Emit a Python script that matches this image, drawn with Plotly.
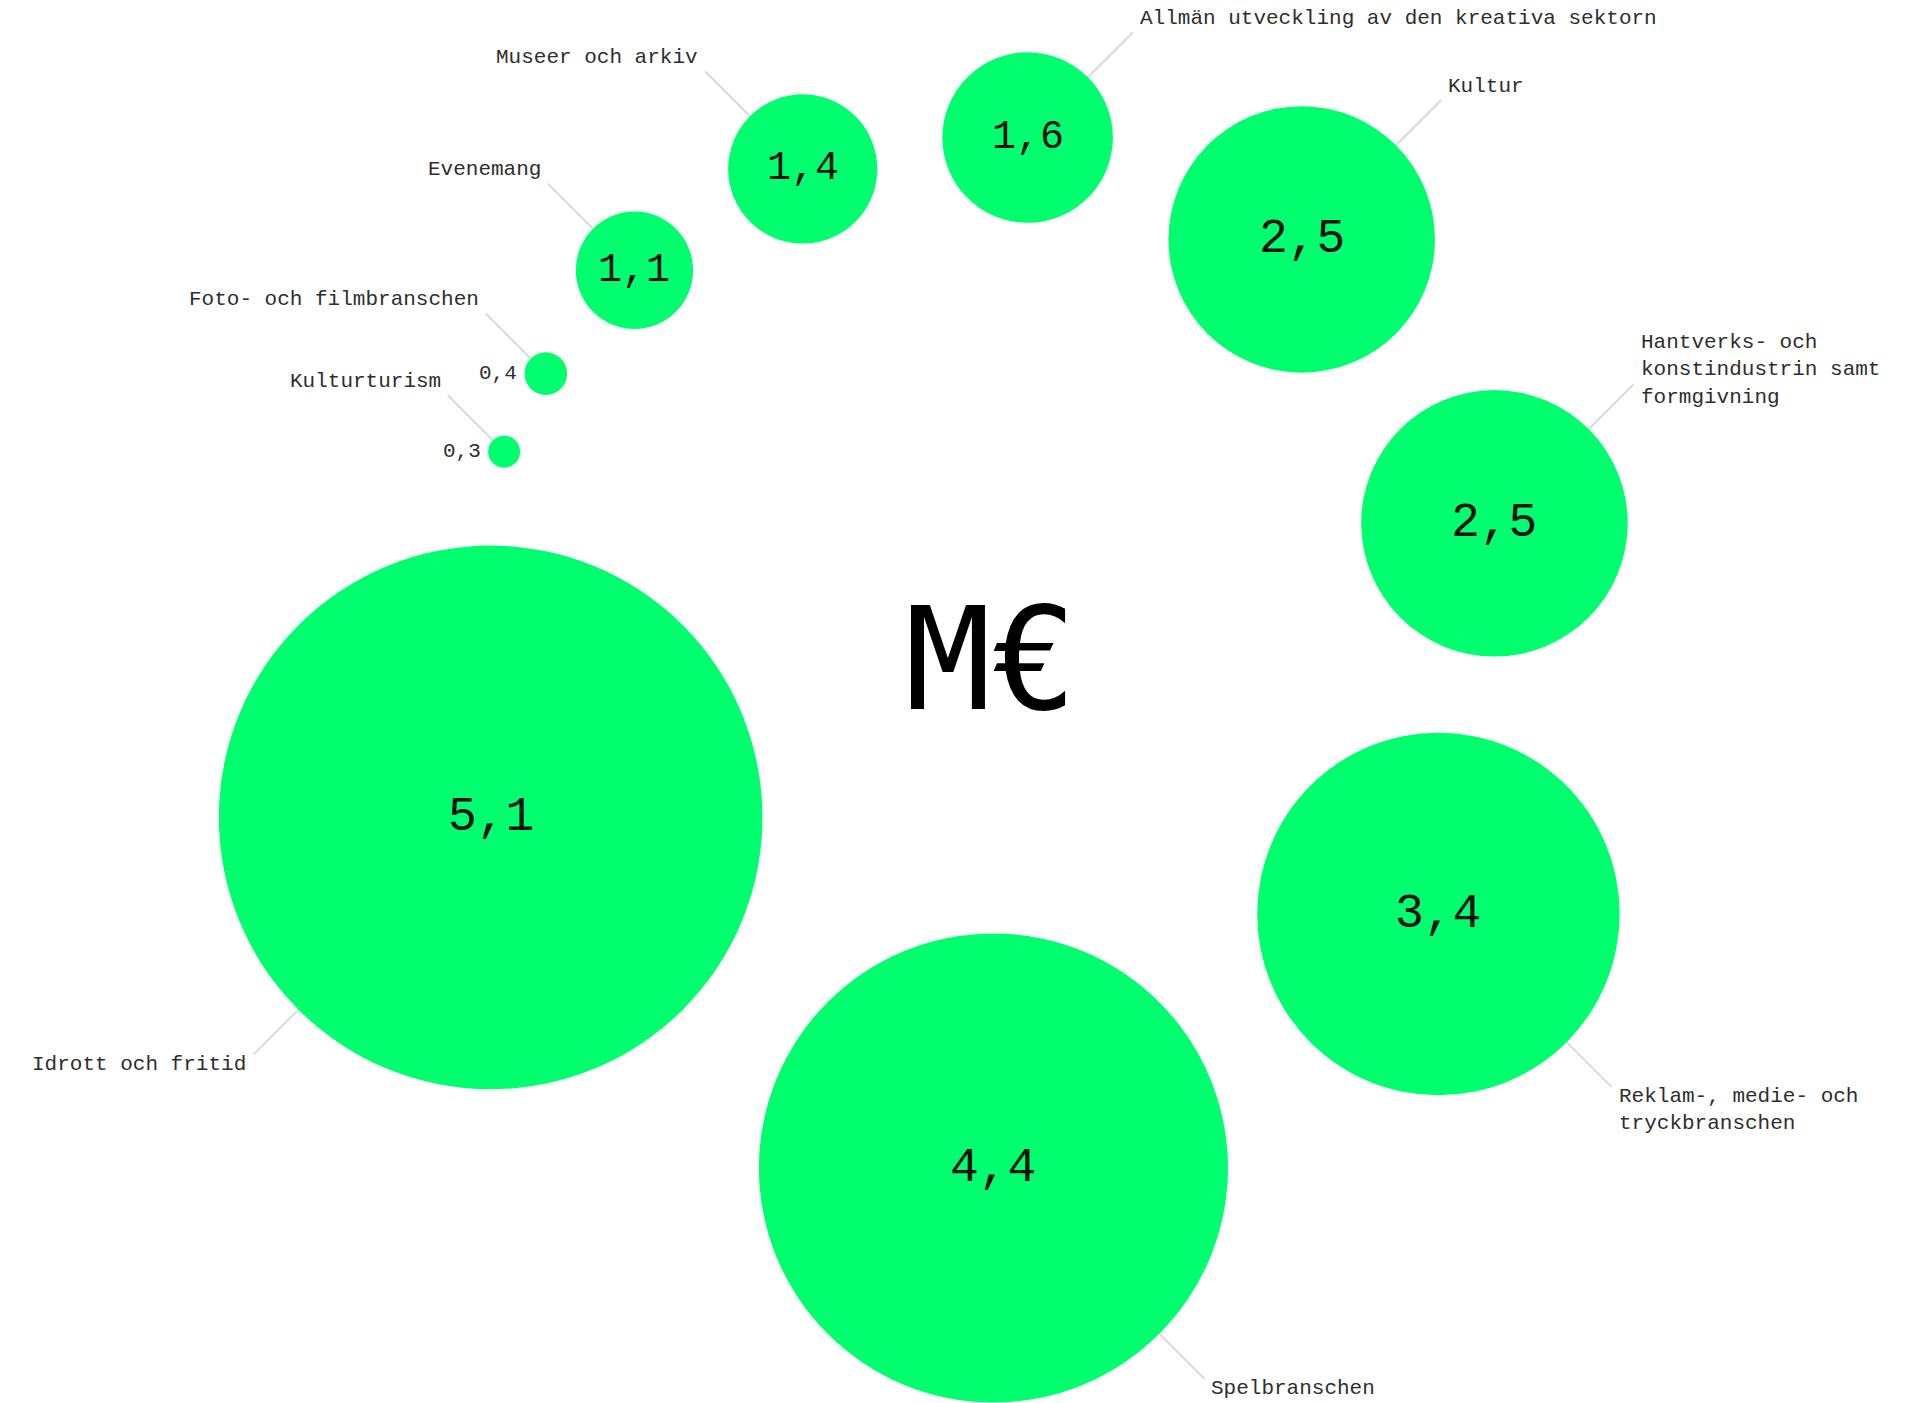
import math
import plotly.graph_objects as go

# ---- data (clockwise order around the ring) ----
categories = [
    "Kulturturism",
    "Foto- och filmbranschen",
    "Evenemang",
    "Museer och arkiv",
    "Allmän utveckling av den kreativa sektorn",
    "Kultur",
    "Hantverks- och<br>konstindustrin samt<br>formgivning",
    "Reklam-, medie- och<br>tryckbranschen",
    "Spelbranschen",
    "Idrott och fritid",
]
values = [0.3, 0.4, 1.1, 1.4, 1.6, 2.5, 2.5, 3.4, 4.4, 5.1]
center_label = "M€"

# ---- layout parameters (pixel space of the page) ----
W, H = 1905, 1403
RING_CX, RING_CY, RING_R = 987, 652, 520
RING_RX, RING_RY = 524, 516
START_DEG = 157.15
DIAM_PER_UNIT = 106.6        # bubble diameter in px per M€
CHORD_A, CHORD_B = 59.375, 47.28
GREEN = "#00ff6e"
LABEL_FONT = "Liberation Mono, DejaVu Sans Mono, monospace"
TXT = "#2e2e2e"

# bubble positions along a ring, spacing driven by the values
thetas = [math.radians(START_DEG)]
for i in range(1, len(values)):
    chord = CHORD_A * (values[i - 1] + values[i]) + CHORD_B
    thetas.append(thetas[-1] - 2 * math.asin(chord / (2 * RING_R)))
xs = [RING_CX + RING_RX * math.cos(t) for t in thetas]
ys = [RING_CY - RING_RY * math.sin(t) for t in thetas]
radii = [v * DIAM_PER_UNIT / 2 for v in values]

fig = go.Figure()

# leader lines
lx, ly = [], []
annotations = []
LEAD = 45
for cat, v, x, y, r, t in zip(categories, values, xs, ys, radii, thetas):
    sx = 1 if math.cos(t) > 0 else -1
    sy = -1 if math.sin(t) > 0 else 1   # screen y grows downwards
    x0 = x + sx * r * math.sqrt(0.5)
    y0 = y + sy * r * math.sqrt(0.5)
    x1 = x0 + sx * LEAD
    y1 = y0 + sy * LEAD
    lx += [x0, x1, None]
    ly += [y0, y1, None]
    if sy < 0:   # upper labels: centred a little above the leader end
        ya, ysh = "middle", 14
    else:        # lower labels: hang below the leader end
        ya, ysh = "top", 4
    annotations.append(dict(
        x=x1, y=y1, xref="x", yref="y", text=cat, showarrow=False,
        xanchor="left" if sx > 0 else "right",
        yanchor=ya, xshift=5 * sx, yshift=ysh,
        align="left",
        font=dict(family=LABEL_FONT, size=21, color=TXT),
    ))
    vtxt = f"{v:.1f}".replace(".", ",")
    if v < 1:
        annotations.append(dict(
            x=x - r, y=y, xref="x", yref="y", text=vtxt, showarrow=False,
            xanchor="right", yanchor="middle", xshift=-5,
            font=dict(family=LABEL_FONT, size=21, color=TXT),
        ))
    else:
        annotations.append(dict(
            x=x, y=y, xref="x", yref="y", text=vtxt, showarrow=False,
            xanchor="center", yanchor="middle",
            font=dict(family=LABEL_FONT, size=48 if v >= 2 else 40, color="#111111"),
        ))

fig.add_trace(go.Scatter(
    x=lx, y=ly, mode="lines", line=dict(color="#dadada", width=2),
    hoverinfo="skip", cliponaxis=False, showlegend=False,
))
fig.add_trace(go.Scatter(
    x=xs, y=ys, mode="markers",
    marker=dict(size=values, sizemode="diameter", sizeref=1 / DIAM_PER_UNIT,
                color=GREEN, line=dict(width=0), opacity=1),
    text=categories, hoverinfo="text", cliponaxis=False, showlegend=False,
))

annotations.append(dict(
    x=RING_CX + 4, y=RING_CY + 7, xref="x", yref="y", text=center_label,
    showarrow=False, xanchor="center", yanchor="middle",
    font=dict(family="DejaVu Sans Mono, monospace", size=143, color="#000000"),
))

fig.update_layout(
    width=W, height=H,
    margin=dict(l=0, r=0, t=0, b=0),
    paper_bgcolor="white", plot_bgcolor="white",
    xaxis=dict(range=[0, W], visible=False, fixedrange=True),
    yaxis=dict(range=[H, 0], visible=False, fixedrange=True),
    annotations=annotations,
    showlegend=False,
)

fig.write_html(
    "out.html",
    config={"displayModeBar": False},
    post_script="document.body.style.margin='0';document.body.style.overflow='hidden';",
)
